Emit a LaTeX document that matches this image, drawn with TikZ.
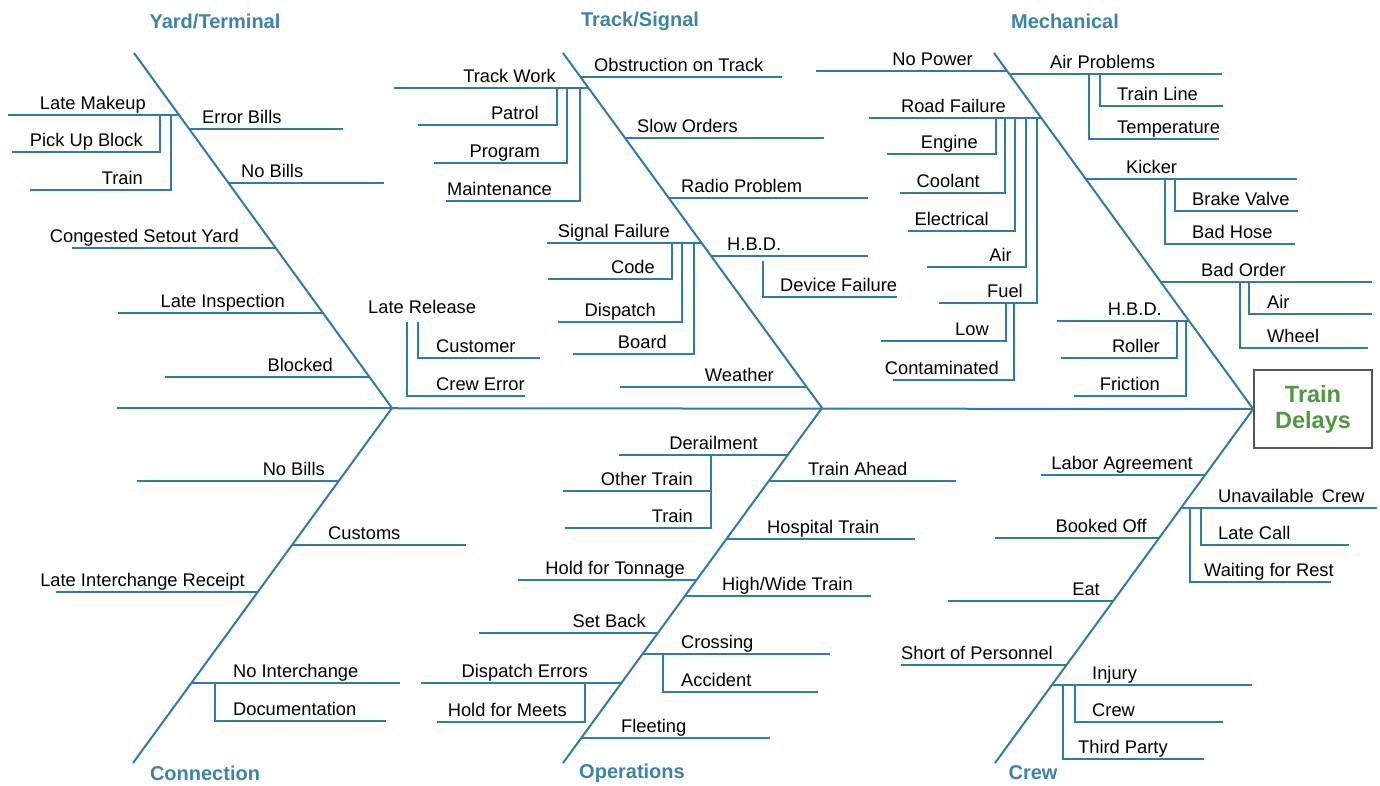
\documentclass[tikz,border=0pt]{standalone}
\usepackage{fontspec}
\setmainfont{Liberation Sans}
\definecolor{bonec}{HTML}{2E7DA6}
\definecolor{ttlc}{HTML}{3A84AE}
\definecolor{grnc}{HTML}{4C9A3C}
\definecolor{boxc}{HTML}{555555}
\begin{document}
\begin{tikzpicture}[x=1pt,y=-1pt,
  ln/.style={draw=bonec,line width=1.8pt},
  bn/.style={draw=bonec,line width=2pt},
  lbl/.style={inner sep=0pt,font=\fontsize{18.3}{20}\selectfont,text=black},
  LE/.style={lbl,anchor=base east,yshift=5.5pt},
  LW/.style={lbl,anchor=base west,yshift=5.5pt},
  ttl/.style={inner sep=0pt,font=\fontsize{20}{22}\selectfont\bfseries,text=ttlc}]
\useasboundingbox (0,0) rectangle (1380,786);
\fill[white] (0,0) rectangle (1380,786);

% titles
\node[ttl] (tyard) at (215,21) {Yard/Terminal};
\node[ttl] (ttrack) at (640,21) {Track/Signal};
\node[ttl] (tmech) at (1065,21) {Mechanical};
\node[ttl] (tconn) at (205,773) {Connection};
\node[ttl] (tops) at (632,773) {Operations};
\node[ttl] (tcrew) at (1033,773) {Crew};

% effect box
\node[draw=boxc,line width=1.6pt,minimum width=118pt,minimum height=78pt,inner sep=0pt,
      align=center,text=grnc,font=\fontsize{23.5}{26}\selectfont\bfseries] (effect) at (1313,409) {Train\\Delays};

% spine and bones
\coordinate (s0) at (117,408);
\draw[bn] (s0) -- (effect.west);
\draw[bn] (134,53) -- (392,408) -- (133,763);
\draw[bn] (563,53) -- (822,408) -- (563,763);
\draw[bn] (994,53) -- (effect.west) -- (995,763);

% ---------- Yard/Terminal ----------
\draw[ln] (8,115) -- (179,115);
\draw[ln] (160,115) -- (160,152) -- (12,152);
\draw[ln] (171,115) -- (171,190) -- (30,190);
\draw[ln] (189,129) -- (343,129);
\draw[ln] (229,183) -- (384,183);
\draw[ln] (72,248) -- (276,248);
\draw[ln] (118,313) -- (324,313);
\draw[ln] (165,377) -- (370,377);
\node[LE] (y1) at (146,115) {Late Makeup};
\node[LE] (y2) at (143,152) {Pick Up Block};
\node[LE] (y3) at (143,190) {Train};
\node[LW] (y4) at (202,129) {Error Bills};
\node[LW] (y5) at (241,183) {No Bills};
\node[LE] (y6) at (239,248) {Congested Setout Yard};
\node[LE] (y7) at (285,313) {Late Inspection};
\node[LE] (y8) at (333,377) {Blocked};

% ---------- Track/Signal ----------
\draw[ln] (394,88) -- (588,88);
\draw[ln] (557,88) -- (557,125) -- (418,125);
\draw[ln] (567,88) -- (567,163) -- (434,163);
\draw[ln] (580,88) -- (580,201) -- (446,201);
\draw[ln] (580,77) -- (782,77);
\draw[ln] (625,138) -- (824,138);
\draw[ln] (669,198) -- (868,198);
\draw[ln] (547,243) -- (702,243);
\draw[ln] (672,243) -- (672,279) -- (548,279);
\draw[ln] (682,243) -- (682,322) -- (558,322);
\draw[ln] (694,243) -- (694,354) -- (573,354);
\draw[ln] (711,256) -- (868,256);
\draw[ln] (763,261) -- (763,297) -- (897,297);
\draw[ln] (620,387) -- (807,387);
\draw[ln] (407,322) -- (407,396) -- (525,396);
\draw[ln] (418,322) -- (418,358) -- (540,358);
\node[LE] (s1) at (556,88) {Track Work};
\node[LE] (s2) at (539,125) {Patrol};
\node[LE] (s3) at (540,163) {Program};
\node[LE] (s4) at (552,201) {Maintenance};
\node[LW] (s5) at (594,77) {Obstruction on Track};
\node[LW] (s6) at (637,138) {Slow Orders};
\node[LW] (s7) at (681,198) {Radio Problem};
\node[LE] (s8) at (670,243) {Signal Failure};
\node[LE] (s9) at (655,279) {Code};
\node[LE] (s10) at (656,322) {Dispatch};
\node[LE] (s11) at (667,354) {Board};
\node[LW] (s12) at (727,256) {H.B.D.};
\node[LW] (s13) at (780,297) {Device Failure};
\node[LE] (s14) at (774,387) {Weather};
\node[LW] (s15) at (368,319) {Late Release};
\node[LW] (s16) at (436,358) {Customer};
\node[LW] (s17) at (436,396) {Crew Error};

% ---------- Mechanical ----------
\draw[ln] (816,71) -- (1007,71);
\draw[ln] (1009,74) -- (1222,74);
\draw[ln] (1089,74) -- (1089,139) -- (1219,139);
\draw[ln] (1100,74) -- (1100,106) -- (1223,106);
\draw[ln] (869,118) -- (1041,118);
\draw[ln] (996,118) -- (996,154) -- (887,154);
\draw[ln] (1005,118) -- (1005,193) -- (900,193);
\draw[ln] (1015,118) -- (1015,231) -- (908,231);
\draw[ln] (1026,118) -- (1026,267) -- (927,267);
\draw[ln] (1037,118) -- (1037,303) -- (939,303);
\draw[ln] (1006,303) -- (1006,341) -- (881,341);
\draw[ln] (1014,303) -- (1014,380) -- (893,380);
\draw[ln] (1086,179) -- (1297,179);
\draw[ln] (1165,179) -- (1165,244) -- (1295,244);
\draw[ln] (1175,179) -- (1175,211) -- (1298,211);
\draw[ln] (1161,282) -- (1372,282);
\draw[ln] (1240,282) -- (1240,348) -- (1368,348);
\draw[ln] (1249,282) -- (1249,314) -- (1372,314);
\draw[ln] (1057,321) -- (1189,321);
\draw[ln] (1177,321) -- (1177,358) -- (1061,358);
\draw[ln] (1186,321) -- (1186,396) -- (1074,396);
\node[LE] (m1) at (973,71) {No Power};
\node[LW] (m2) at (1050,74) {Air Problems};
\node[LW] (m3) at (1117,106) {Train Line};
\node[LW] (m4) at (1117,139) {Temperature};
\node[LE] (m5) at (1006,118) {Road Failure};
\node[LE] (m6) at (978,154) {Engine};
\node[LE] (m7) at (980,193) {Coolant};
\node[LE] (m8) at (989,231) {Electrical};
\node[LE] (m9) at (1012,267) {Air};
\node[LE] (m10) at (1023,303) {Fuel};
\node[LE] (m11) at (989,341) {Low};
\node[LE] (m12) at (999,380) {Contaminated};
\node[LW] (m13) at (1126,179) {Kicker};
\node[LW] (m14) at (1192,211) {Brake Valve};
\node[LW] (m15) at (1192,244) {Bad Hose};
\node[LW] (m16) at (1201,282) {Bad Order};
\node[LW] (m17) at (1267,314) {Air};
\node[LW] (m18) at (1267,348) {Wheel};
\node[LE] (m19) at (1162,321) {H.B.D.};
\node[LE] (m20) at (1160,358) {Roller};
\node[LE] (m21) at (1160,396) {Friction};

% ---------- Connection ----------
\draw[ln] (137,481) -- (339,481);
\draw[ln] (292,545) -- (466,545);
\draw[ln] (56,592) -- (258,592);
\draw[ln] (191,683) -- (400,683);
\draw[ln] (215,683) -- (215,721) -- (386,721);
\node[LE] (c1) at (325,481) {No Bills};
\node[LW] (c2) at (328,545) {Customs};
\node[LE] (c3) at (245,592) {Late Interchange Receipt};
\node[LW] (c4) at (233,683) {No Interchange};
\node[LW] (c5) at (233,721) {Documentation};

% ---------- Operations ----------
\draw[ln] (619,455) -- (788,455);
\draw[ln] (711,455) -- (711,528) -- (565,528);
\draw[ln] (563,491) -- (711,491);
\draw[ln] (769,481) -- (956,481);
\draw[ln] (726,539) -- (915,539);
\draw[ln] (518,580) -- (697,580);
\draw[ln] (685,596) -- (871,596);
\draw[ln] (479,633) -- (658,633);
\draw[ln] (642,654) -- (830,654);
\draw[ln] (663,654) -- (663,692) -- (818,692);
\draw[ln] (421,683) -- (621,683);
\draw[ln] (585,683) -- (585,722) -- (437,722);
\draw[ln] (581,738) -- (770,738);
\node[LE] (o1) at (758,455) {Derailment};
\node[LE] (o2) at (693,491) {Other Train};
\node[LE] (o3) at (693,528) {Train};
\node[LW] (o4) at (808,481) {Train Ahead};
\node[LW] (o5) at (767,539) {Hospital Train};
\node[LE] (o6) at (685,580) {Hold for Tonnage};
\node[LW] (o7) at (722,596) {High/Wide Train};
\node[LE] (o8) at (646,633) {Set Back};
\node[LW] (o9) at (681,654) {Crossing};
\node[LW] (o10) at (681,692) {Accident};
\node[LE] (o11) at (588,683) {Dispatch Errors};
\node[LE] (o12) at (567,722) {Hold for Meets};
\node[LW] (o13) at (621,738) {Fleeting};

% ---------- Crew ----------
\draw[ln] (1041,475) -- (1205,475);
\draw[ln] (1181,508) -- (1377,508);
\draw[ln] (1190,508) -- (1190,582) -- (1331,582);
\draw[ln] (1201,508) -- (1201,545) -- (1349,545);
\draw[ln] (995,538) -- (1159,538);
\draw[ln] (948,601) -- (1113,601);
\draw[ln] (901,665) -- (1066,665);
\draw[ln] (1052,685) -- (1252,685);
\draw[ln] (1063,685) -- (1063,759) -- (1204,759);
\draw[ln] (1075,685) -- (1075,722) -- (1223,722);
\node[LE] (w1) at (1193,475) {Labor Agreement};
\node[LW] (w2) at (1218,508) {Unavailable\, Crew};
\node[LW] (w3) at (1218,545) {Late Call};
\node[LW] (w4) at (1204,582) {Waiting for Rest};
\node[LE] (w5) at (1147,538) {Booked Off};
\node[LE] (w6) at (1100,601) {Eat};
\node[LE] (w7) at (1053,665) {Short of Personnel};
\node[LW] (w8) at (1092,685) {Injury};
\node[LW] (w9) at (1092,722) {Crew};
\node[LW] (w10) at (1078,759) {Third Party};
\end{tikzpicture}
\end{document}
